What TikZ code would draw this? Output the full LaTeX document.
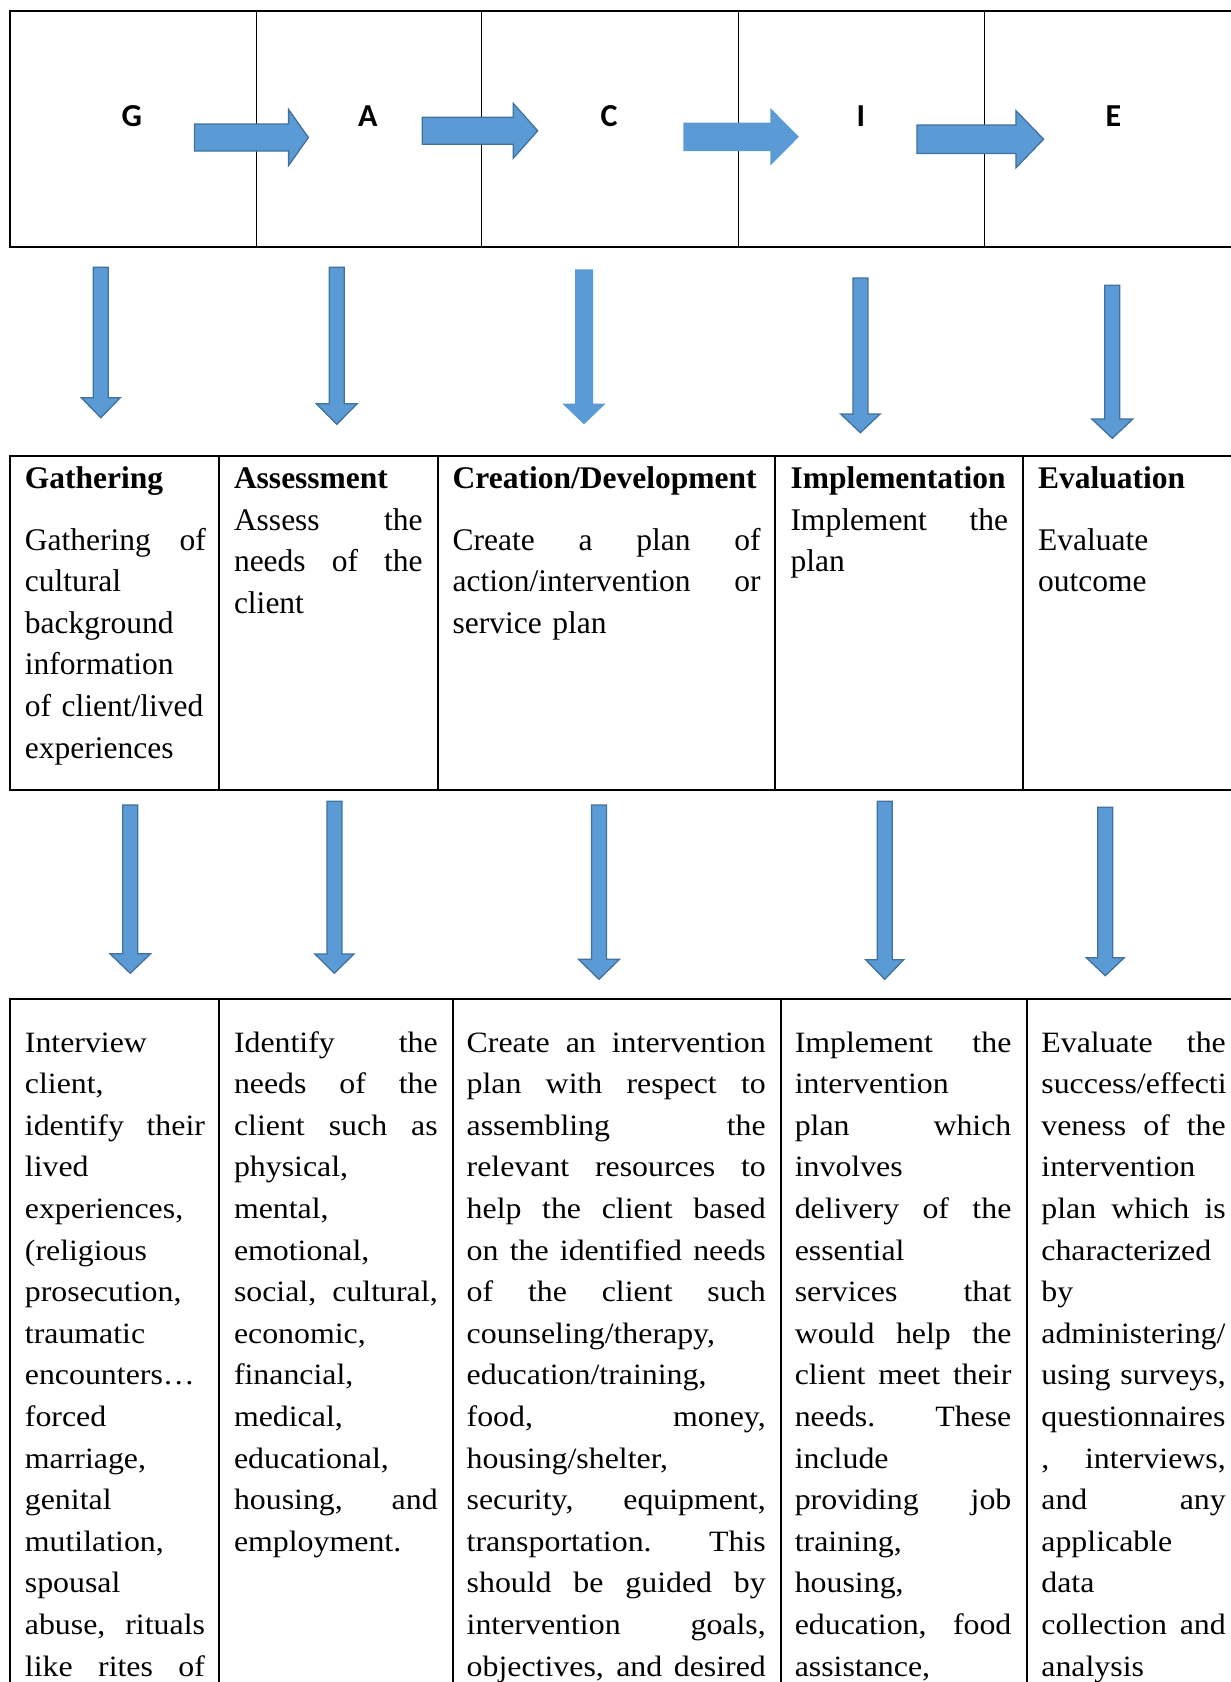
\documentclass[tikz,border=0pt]{standalone}
\usepackage{fontspec}
\setmainfont{Liberation Serif}
\newfontfamily\calfont{Carlito}
\newfontfamily\bodyfont[FakeStretch=1.08]{Liberation Serif}
\definecolor{arrfill}{HTML}{5B9BD5}
\definecolor{arrline}{HTML}{41719C}
\newcommand\J[1]{\makebox[\hsize][s]{\spaceskip=.25em plus 1fil\relax\xspaceskip=.25em plus 1fil\relax #1}}
% right block arrow: [opts]{x1}{x2 head base}{x3 tip}{yc}{shaft half}{head half}
\newcommand\RArr[7][]{\path[harrow,#1] (#2,#5-#6) -- (#3,#5-#6) -- (#3,#5-#7) -- (#4,#5) -- (#3,#5+#7) -- (#3,#5+#6) -- (#2,#5+#6) -- cycle;}
% down block arrow: [opts]{xc}{ytop}{ybase}{ytip}{shaft half}{head half}
\newcommand\DArr[7][]{\path[harrow,#1] (#2-#6,#3) -- (#2+#6,#3) -- (#2+#6,#4) -- (#2+#7,#4) -- (#2,#5) -- (#2-#7,#4) -- (#2-#6,#4) -- cycle;}
\tikzset{
  harrow/.style={fill=arrfill, draw=arrline, line width=1.3pt, line join=miter},
  plainarrow/.style={draw=none},
  letter/.style={font=\calfont\bfseries\fontsize{32}{38}\selectfont, inner sep=0pt},
  midhead/.style={font=\bfseries\fontsize{31.5}{41.6}\selectfont, anchor=base west, inner sep=0pt},
  midtext/.style={font=\fontsize{31.5}{41.6}\selectfont, anchor=base west, inner sep=0pt, align=left},
  bottext/.style={font=\bodyfont\fontsize{29.5}{41.6}\selectfont, anchor=base west, inner sep=0pt, align=left},
  outerline/.style={line width=2.2pt},
  innerline/.style={line width=1.4pt},
  tabline/.style={line width=2pt},
}
\begin{document}
\begin{tikzpicture}[x=1pt,y=-1pt]
\useasboundingbox (0,0) rectangle (1231,1682);
\clip (0,0) rectangle (1231,1682);
\fill[white] (0,0) rectangle (1231,1682);

% ---------- top box ----------
\draw[outerline] (9.65,11) rectangle (1260,246.7);
\foreach \x in {256.3,481.5,738.7,984.6}
  \draw[innerline] (\x,11) -- (\x,246.7);
\node[letter] (G) at (131.9,116.5) {G};
\node[letter] (A) at (367.8,116.5) {A};
\node[letter] (C) at (609,116.5) {C};
\node[letter] (I) at (861,116.5) {I};
\node[letter] (E) at (1113.5,116.5) {E};

\RArr{194.5}{288.6}{308.4}{137.5}{13.5}{28}
\RArr{422.3}{513.2}{537.7}{130.8}{13.5}{27.5}
\RArr[plainarrow]{683.3}{770.4}{798.9}{136.8}{14.2}{28.7}
\RArr{916.9}{1015.9}{1043.6}{139.2}{14.2}{28.6}

% ---------- first row of down arrows ----------
\DArr{100.8}{267.3}{397.7}{417.7}{7.5}{19.5}
\DArr{336.8}{267.3}{403.7}{424.3}{7.5}{20.5}
\DArr[plainarrow]{584}{269.3}{403.7}{424.3}{9}{21.5}
\DArr{860.4}{278}{414}{432.7}{7.5}{19.7}
\DArr{1112.3}{285.3}{419}{438.3}{7.5}{20.5}

% ---------- middle table ----------
\draw[tabline] (9.65,455.7) rectangle (1260,790.3);
\foreach \x in {218.7,437.5,775.3,1023}
  \draw[tabline] (\x,455.7) -- (\x,790.3);

\node[midhead] (hG) at (24.7,488) {Gathering};
\node[midhead] (hA) at (233.8,488) {Assessment};
\node[midhead] (hC) at (452.5,488) {Creation/Development};
\node[midhead] (hI) at (790.3,488) {Implementation};
\node[midhead] (hE) at (1038,488) {Evaluation};

\node[midtext, text width=181pt] (tG) at (24.7,550)
  {\J{Gathering of}\\cultural\\background\\information\\of client/lived\\experiences};
\node[midtext, text width=188.7pt] (tA) at (233.8,530)
  {\J{Assess the}\\\J{needs of the}\\client};
\node[midtext, text width=307.8pt] (tC) at (452.5,550)
  {\J{Create a plan of}\\\J{action/intervention or}\\service plan};
\node[midtext, text width=217.7pt] (tI) at (790.3,530)
  {\J{Implement the}\\plan};
\node[midtext, text width=190pt] (tE) at (1038,550)
  {Evaluate\\outcome};

% ---------- second row of down arrows ----------
\DArr{130.3}{805}{953.7}{973.3}{7.5}{20.3}
\DArr{334.4}{801.3}{954}{973.3}{7.5}{19.5}
\DArr{599}{805}{959.3}{979.3}{7.5}{20.5}
\DArr{884.7}{801.3}{959.7}{979.3}{7.5}{19}
\DArr{1105.3}{807.3}{957.7}{975.7}{7.5}{19}

% ---------- bottom table ----------
\draw[tabline] (9.65,999.4) rectangle (1260,1700);
\foreach \x in {218.7,452.5,780.6,1027.3}
  \draw[tabline] (\x,999.4) -- (\x,1700);

\node[bottext, text width=180.1pt] (bG) at (24.7,1052)
  {Interview\\client,\\\J{identify their}\\lived\\experiences,\\(religious\\prosecution,\\traumatic\\encounters…\\forced\\marriage,\\genital\\mutilation,\\spousal\\\J{abuse, rituals}\\\J{like rites of}};
\node[bottext, text width=203.7pt] (bA) at (233.8,1052)
  {\J{Identify the}\\\J{needs of the}\\\J{client such as}\\physical,\\mental,\\emotional,\\\J{social, cultural,}\\economic,\\financial,\\medical,\\educational,\\\J{housing, and}\\employment.};
\node[bottext, text width=299.1pt] (bC) at (466.5,1052)
  {\J{Create an intervention}\\\J{plan with respect to}\\\J{assembling the}\\\J{relevant resources to}\\\J{help the client based}\\\J{on the identified needs}\\\J{of the client such}\\counseling/therapy,\\education/training,\\\J{food, money,}\\housing/shelter,\\\J{security, equipment,}\\\J{transportation. This}\\\J{should be guided by}\\\J{intervention goals,}\\\J{objectives, and desired}};
\node[bottext, text width=216.6pt] (bI) at (794.6,1052)
  {\J{Implement the}\\intervention\\\J{plan which}\\involves\\\J{delivery of the}\\essential\\\J{services that}\\\J{would help the}\\\J{client meet their}\\\J{needs. These}\\include\\\J{providing job}\\training,\\housing,\\\J{education, food}\\assistance,};
\node[bottext, text width=184.4pt] (bE) at (1041.2,1052)
  {\J{Evaluate the}\\success/effecti\\\J{veness of the}\\intervention\\\J{plan which is}\\characterized\\by\\administering/\\\J{using surveys,}\\questionnaires\\\J{, interviews,}\\\J{and any}\\applicable\\data\\\J{collection and}\\analysis};
\end{tikzpicture}
\end{document}
